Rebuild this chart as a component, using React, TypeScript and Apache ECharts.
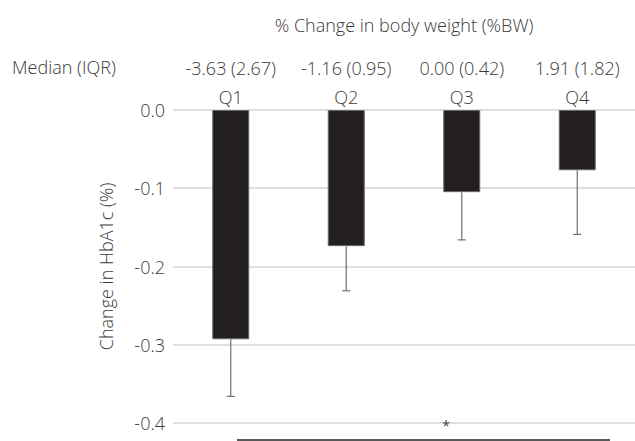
import React, { useEffect, useRef } from "react";
import * as echarts from "echarts";

const categories = ["Q1", "Q2", "Q3", "Q4"];
const medians = ["-3.63 (2.67)", "-1.16 (0.95)", "0.00 (0.42)", "1.91 (1.82)"];
const means = [-0.293, -0.174, -0.105, -0.077];
const errorEnds = [-0.366, -0.231, -0.166, -0.159];
const yTicks = { min: -0.4, max: 0, interval: 0.1 };

const FONT = "'Open Sans', 'Noto Sans', sans-serif";
const TEXT = "#3a3a3a";
const FS = 18;
const FW = 300;

export default function App() {
  const ref = useRef<HTMLDivElement>(null);
  useEffect(() => {
    document.body.style.margin = "0";
    if (!ref.current) return;
    const chart = echarts.init(ref.current, null, { renderer: "svg" });
    const label = { color: TEXT, fontSize: FS, fontWeight: FW, fontFamily: FONT };
    chart.setOption({
      animation: false,
      backgroundColor: "#ffffff",
      textStyle: { fontFamily: FONT },
      grid: { left: 173, right: 0, top: 110, bottom: 18 },
      xAxis: [
        {
          type: "category",
          data: categories,
          position: "top",
          axisLine: { show: false },
          axisTick: { show: false },
          axisLabel: { ...label, margin: 4, interval: 0, hideOverlap: false },
        },
        {
          type: "category",
          data: medians,
          position: "top",
          offset: 29,
          axisLine: { show: false },
          axisTick: { show: false },
          axisLabel: { ...label, margin: 4, interval: 0, hideOverlap: false },
        },
      ],
      yAxis: {
        type: "value",
        min: yTicks.min,
        max: yTicks.max,
        interval: yTicks.interval,
        name: "Change in HbA1c (%)",
        nameLocation: "middle",
        nameGap: 58,
        nameRotate: 90,
        nameTextStyle: { ...label },
        axisLine: { show: false },
        axisTick: { show: false },
        axisLabel: {
          ...label,
          margin: 8,
          formatter: (v: number) => v.toFixed(1),
        },
        splitLine: { lineStyle: { color: "#d4d4d4", width: 1.5 } },
      },
      series: [
        {
          type: "bar",
          data: means,
          barWidth: 37,
          itemStyle: { color: "#231f20", borderColor: "#6a6a6a", borderWidth: 1 },
          z: 2,
        },
        {
          type: "custom",
          data: categories.map((_, i) => [i, means[i], errorEnds[i]]),
          z: 3,
          renderItem: (params: any, api: any) => {
            const idx = api.value(0);
            const start = api.coord([idx, api.value(1)]);
            const end = api.coord([idx, api.value(2)]);
            const style = { stroke: "#707070", lineWidth: 1.2 };
            return {
              type: "group",
              children: [
                { type: "line", shape: { x1: start[0], y1: start[1], x2: end[0], y2: end[1] }, style },
                { type: "line", shape: { x1: end[0] - 4, y1: end[1], x2: end[0] + 4, y2: end[1] }, style },
              ],
            };
          },
        },
      ],
      graphic: [
        {
          type: "text",
          x: 404,
          y: 25,
          style: {
            text: "% Change in body weight (%BW)",
            fill: TEXT,
            font: `${FW} ${FS}px ${FONT}`,
            textAlign: "center",
            textVerticalAlign: "middle",
          },
        },
        {
          type: "text",
          x: 12,
          y: 67,
          style: {
            text: "Median (IQR)",
            fill: TEXT,
            font: `${FW} ${FS}px ${FONT}`,
            textAlign: "left",
            textVerticalAlign: "middle",
          },
        },
        {
          type: "text",
          x: 446,
          y: 425,
          z: 10,
          style: {
            text: "*",
            fill: "#444",
            font: `14px ${FONT}`,
            textAlign: "center",
            textVerticalAlign: "middle",
          },
        },
        {
          type: "line",
          shape: { x1: 237, y1: 440, x2: 610, y2: 440 },
          style: { stroke: "#222", lineWidth: 1.5 },
        },
      ],
    });
    return () => chart.dispose();
  }, []);
  return <div ref={ref} style={{ width: 635, height: 441 }} />;
}
